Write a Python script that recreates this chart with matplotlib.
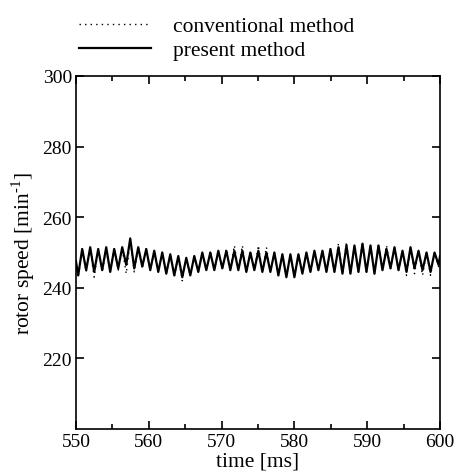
import matplotlib.pyplot as plt
from matplotlib.ticker import MultipleLocator

# sample instants (ms) of the ripple extremes
time_ms = [550.0, 550.3, 550.85, 551.4, 551.95, 552.5, 553.05, 553.6, 554.15, 554.7,
           555.25, 555.8, 556.35, 556.9, 557.45, 558.0, 558.55, 559.1, 559.65, 560.2,
           560.75, 561.3, 561.85, 562.4, 562.95, 563.5, 564.05, 564.6, 565.15, 565.7,
           566.25, 566.8, 567.35, 567.9, 568.45, 569.0, 569.55, 570.1, 570.65, 571.2,
           571.75, 572.3, 572.85, 573.4, 573.95, 574.5, 575.05, 575.6, 576.15, 576.7,
           577.25, 577.8, 578.35, 578.9, 579.45, 580.0, 580.55, 581.1, 581.65, 582.2,
           582.75, 583.3, 583.85, 584.4, 584.95, 585.5, 586.05, 586.6, 587.15, 587.7,
           588.25, 588.8, 589.35, 589.9, 590.45, 591.0, 591.55, 592.1, 592.65, 593.2,
           593.75, 594.3, 594.85, 595.4, 595.95, 596.5, 597.05, 597.6, 598.15, 598.7,
           599.25, 599.8, 600.0]

present_speed = [247.5, 243.5, 251.0, 245.0, 251.5, 244.5, 251.0, 245.0, 251.5, 244.5,
                 251.0, 245.5, 251.5, 246.5, 254.0, 245.5, 251.5, 246.0, 251.0, 245.0,
                 250.5, 244.5, 250.0, 244.0, 249.5, 243.5, 249.0, 243.0, 248.5, 243.5,
                 249.0, 244.5, 250.0, 245.0, 250.0, 245.0, 250.5, 245.5, 250.5, 245.0,
                 250.5, 245.0, 250.5, 244.5, 250.0, 245.0, 250.5, 244.5, 250.0, 244.5,
                 250.0, 243.5, 249.5, 243.0, 249.5, 243.0, 249.5, 244.0, 250.0, 244.5,
                 250.5, 245.0, 250.5, 244.5, 251.0, 244.5, 251.5, 244.0, 252.0, 244.0,
                 252.0, 244.5, 252.5, 244.5, 252.0, 244.0, 252.0, 245.0, 251.0, 245.5,
                 251.5, 245.0, 250.5, 244.5, 251.5, 245.5, 250.5, 245.0, 250.0, 244.5,
                 250.0, 246.5, 249.0]

conventional_speed = [247.0, 243.0, 251.0, 244.5, 251.0, 243.0, 251.0, 244.5, 251.0, 244.5,
                      251.0, 245.0, 251.0, 244.0, 253.5, 244.5, 251.5, 245.5, 251.0, 245.0,
                      250.5, 244.5, 250.0, 244.0, 249.5, 243.0, 249.0, 242.0, 248.5, 243.5,
                      249.0, 244.5, 250.0, 245.0, 250.5, 245.0, 250.5, 245.5, 251.0, 245.0,
                      252.0, 245.0, 252.0, 244.5, 250.5, 245.0, 252.0, 244.5, 251.5, 244.5,
                      250.0, 243.5, 249.5, 243.0, 249.5, 243.0, 249.5, 244.0, 250.0, 244.5,
                      250.5, 245.0, 250.5, 244.5, 251.0, 244.5, 252.5, 244.0, 253.0, 244.0,
                      252.0, 244.5, 253.0, 244.5, 252.0, 244.0, 252.5, 245.0, 252.0, 245.5,
                      251.5, 245.0, 250.5, 243.5, 251.5, 244.0, 250.5, 243.5, 250.0, 243.5,
                      250.0, 246.0, 249.0]

plt.rcParams['font.family'] = ['Liberation Serif', 'DejaVu Serif']
plt.rcParams['font.size'] = 14
plt.rcParams['mathtext.fontset'] = 'custom'
plt.rcParams['mathtext.rm'] = 'Liberation Serif'

fig = plt.figure(figsize=(4.57, 4.77), dpi=100)
ax = fig.add_axes([0.1663, 0.0985, 0.7965, 0.7401])

ax.plot(time_ms, conventional_speed, color='black', linestyle=(0, (1, 3)), linewidth=1.0,
        label='conventional method')
ax.plot(time_ms, present_speed, color='black', linestyle='-', linewidth=1.6,
        label='present method')

ax.set_xlim(550, 600)
ax.set_ylim(200, 300)
ax.set_xticks([550, 560, 570, 580, 590, 600])
ax.set_yticks([220, 240, 260, 280, 300])
ax.xaxis.set_minor_locator(MultipleLocator(5))
ax.tick_params(which='both', direction='in', top=True, right=True, width=1.2)
ax.tick_params(which='major', length=6, pad=3)
ax.tick_params(which='minor', length=3.5)
for sp in ax.spines.values():
    sp.set_linewidth(1.2)

ax.set_xlabel('time [ms]', fontsize=15.5, labelpad=1)
ax.set_ylabel('rotor speed [min$^{\\text{-1}}$]', fontsize=15.5, labelpad=4)

fig.legend(loc='upper left', bbox_to_anchor=(0.14, 0.996), frameon=False, fontsize=15.5,
           handlelength=3.35, handletextpad=1.0, labelspacing=0.2, borderaxespad=0.3)

fig.savefig('out.png', dpi=100)
